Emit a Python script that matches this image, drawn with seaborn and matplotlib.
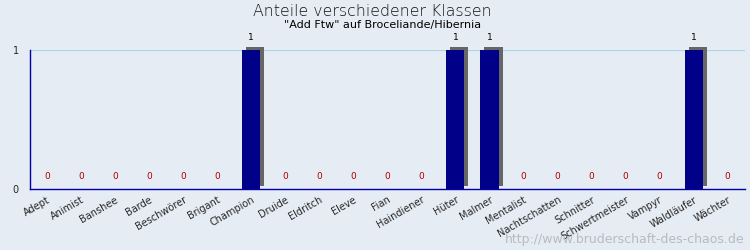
import numpy as np
import pandas as pd
import matplotlib
matplotlib.use("Agg")
import matplotlib.pyplot as plt
import matplotlib.patheffects as pe
import seaborn as sns

# Data
klassen = ["Adept", "Animist", "Banshee", "Barde", "Beschwörer", "Brigant", "Champion",
           "Druide", "Eldritch", "Eleve", "Fian", "Haindiener", "Hüter", "Malmer",
           "Mentalist", "Nachtschatten", "Schnitter", "Schwertmeister", "Vampyr",
           "Waldläufer", "Wächter"]
anzahl = [0, 0, 0, 0, 0, 0, 1, 0, 0, 0, 0, 0, 1, 1, 0, 0, 0, 0, 0, 1, 0]

df = pd.DataFrame({"klasse": klassen, "anzahl": anzahl})

bg = "#e6ecf3"
sns.set_theme(style="white")
plt.rcParams["font.family"] = ["DejaVu Sans"]

fig = plt.figure(figsize=(7.5, 2.5), dpi=100, facecolor=bg)
ax = fig.add_axes([0.04, 0.244, 0.953, 0.556])
ax.set_facecolor(bg)

sns.barplot(data=df, x="klasse", y="anzahl", color="#000088", width=0.53,
            saturation=1, ax=ax, zorder=3)

for bar in ax.patches:
    bar.set_edgecolor("none")
    bar.set_clip_on(False)
    bar.set_path_effects([pe.SimplePatchShadow(offset=(2.9, 2.2), shadow_rgbFace="#666666",
                                               alpha=1.0), pe.Normal()])

# value labels
for bar, v in zip(ax.patches, anzahl):
    col = "#aa0000" if v == 0 else "black"
    ax.annotate(str(v), (bar.get_x() + bar.get_width() / 2, v), xytext=(0, 6),
                textcoords="offset points", ha="center", va="bottom", fontsize=6.5,
                color=col, annotation_clip=False)

ax.set_xlim(-0.5, len(klassen) - 0.5)
ax.set_ylim(0, 1)
ax.axhline(1, color="#a8d8e8", lw=0.9, zorder=1)

ax.set_xticks(np.arange(len(klassen)))
ax.set_xticklabels(klassen, rotation=30, ha="right", rotation_mode="anchor", fontsize=7)
ax.set_xticks(np.arange(len(klassen)) - 0.5, minor=True)
ax.tick_params(axis="x", which="major", length=0, pad=4)
ax.tick_params(axis="x", which="minor", direction="in", length=5, color="#0000aa", width=1)
ax.set_yticks([0, 1])
ax.set_yticklabels(["0", "1"], fontsize=7)
ax.tick_params(axis="y", direction="in", length=4, color="#0000aa", width=1, pad=8)
ax.set_xlabel("")
ax.set_ylabel("")

for s in ["top", "right"]:
    ax.spines[s].set_visible(False)
for s in ["left", "bottom"]:
    ax.spines[s].set_color("#0000aa")
    ax.spines[s].set_linewidth(1)

fig.text(0.497, 0.955, "Anteile verschiedener Klassen", ha="center", va="center",
         fontsize=11.3, color="#111111", fontweight="light")
fig.text(0.51, 0.9, "\"Add Ftw\" auf Broceliande/Hibernia", ha="center", va="center",
         fontsize=8, color="black")
fig.text(0.993, 0.04, "http://www.bruderschaft-des-chaos.de", ha="right", va="center",
         fontsize=9, color="#b8bcc0")

fig.savefig("out.png", dpi=100, facecolor=bg)
